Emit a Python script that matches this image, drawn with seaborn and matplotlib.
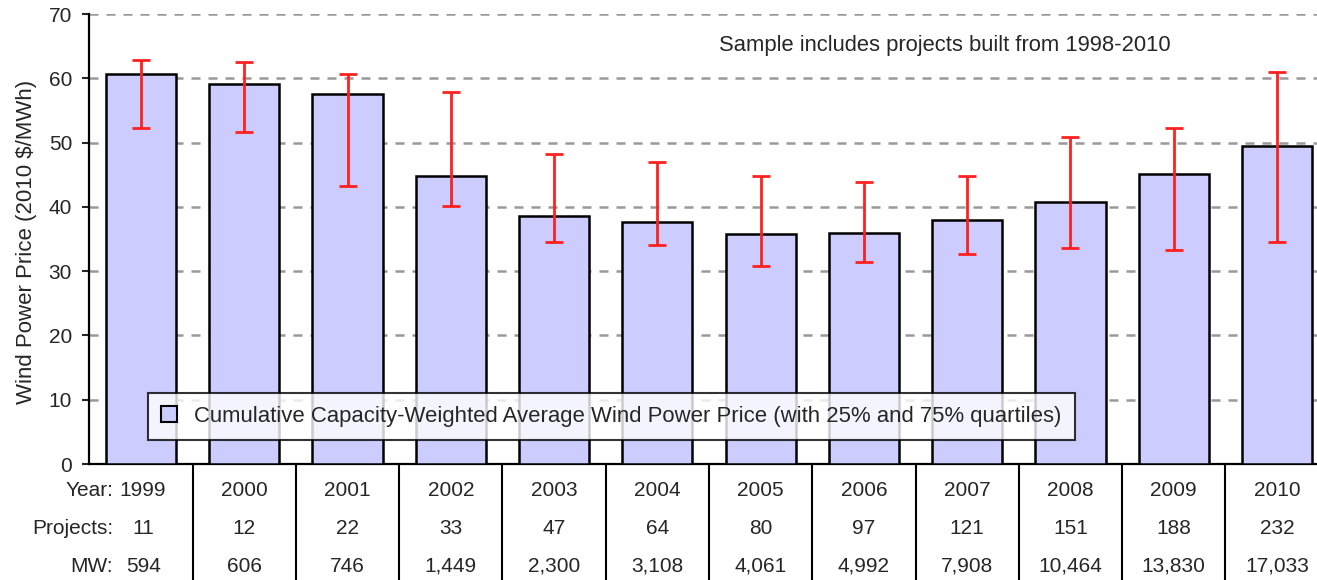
import numpy as np
import pandas as pd
import matplotlib
matplotlib.use("Agg")
import matplotlib.pyplot as plt
import matplotlib.transforms as mtransforms
from matplotlib.patches import Patch
import seaborn as sns

# ---- data ----
years = ["1999", "2000", "2001", "2002", "2003", "2004", "2005", "2006",
         "2007", "2008", "2009", "2010"]
avg_price = [60.7, 59.1, 57.5, 44.8, 38.6, 37.6, 35.8, 36.0, 37.9, 40.7, 45.1, 49.5]
q75 = [62.8, 62.5, 60.7, 57.9, 48.2, 47.0, 44.8, 43.9, 44.8, 50.8, 52.3, 61.0]
q25 = [52.3, 51.7, 43.3, 40.1, 34.5, 34.0, 30.8, 31.4, 32.7, 33.6, 33.3, 34.6]
projects = ["11", "12", "22", "33", "47", "64", "80", "97", "121", "151", "188", "232"]
mw = ["594", "606", "746", "1,449", "2,300", "3,108", "4,061", "4,992",
      "7,908", "10,464", "13,830", "17,033"]
row_labels = ["Year:", "Projects:", "MW:"]
legend_label = "Cumulative Capacity-Weighted Average Wind Power Price (with 25% and 75% quartiles)"
note = "Sample includes projects built from 1998-2010"
ylabel = "Wind Power Price (2010 $/MWh)"
yticks = [0, 10, 20, 30, 40, 50, 60, 70]

sns.set_style("white")
plt.rcParams["font.family"] = ["Liberation Sans", "DejaVu Sans"]

df = pd.DataFrame({"year": years, "price": avg_price})

W, H = 1317, 580
fig = plt.figure(figsize=(W / 100, H / 100), dpi=100)
ax = fig.add_axes([89.4 / W, 116 / H, 1239.2 / W, 450 / H])

sns.barplot(data=df, x="year", y="price", color="#CCCCFF", saturation=1,
            edgecolor="black", linewidth=1.8, width=0.68, ax=ax, zorder=3)

xs = np.arange(len(years))
price = np.array(avg_price)
lo = price - np.array(q25)
hi = np.array(q75) - price
ax.errorbar(xs, price, yerr=[lo, hi], fmt="none", ecolor="#FF2020",
            elinewidth=2, capsize=6.5, capthick=2, zorder=4)

ax.set_ylim(0, 70)
ax.set_xlim(-0.5, len(years) - 0.5)
ax.set_yticks(yticks)
ax.tick_params(axis="y", labelsize=15, length=5, width=1.5, direction="out",
               left=True, pad=7.5)
ax.tick_params(axis="x", bottom=False, labelbottom=False)
ax.set_xlabel("")
ax.set_ylabel(ylabel, fontsize=16)
ax.yaxis.set_label_coords(-0.042, 0.493)
for t in yticks[1:]:
    ax.axhline(t, color="#999999", lw=1.8, ls=(0, (3.6, 3.2)), zorder=1)

for s in ["top", "right"]:
    ax.spines[s].set_visible(False)
for s in ["left", "bottom"]:
    ax.spines[s].set_color("black")
    ax.spines[s].set_linewidth(1.6)

# table beneath the chart
trans = mtransforms.blended_transform_factory(ax.transData, fig.transFigure)
row_y = [1 - 491 / H, 1 - 529 / H, 1 - 566 / H]
for i in range(len(years) - 1):
    ax.plot([i + 0.5, i + 0.5], [1 - 465 / H, 0], transform=trans,
            color="black", lw=1.5, clip_on=False)
for j, (lab, vals) in enumerate(zip(row_labels, [years, projects, mw])):
    ax.text(-0.27, row_y[j], lab, transform=trans, ha="right", va="center",
            fontsize=15)
    for i, v in enumerate(vals):
        ax.text(i + (0.02 if i == 0 else 0), row_y[j], v, transform=trans,
                ha="center", va="center", fontsize=15)

ax.text(0.69, 0.93, note, transform=ax.transAxes, ha="center",
        va="center", fontsize=15.8)

handle = Patch(facecolor="#CCCCFF", edgecolor="black", linewidth=1.5)
leg = ax.legend([handle], [legend_label], loc="lower left",
                bbox_to_anchor=(0.0473, 0.053), fontsize=15.9, frameon=True,
                fancybox=False, handlelength=0.7, handleheight=0.7,
                borderpad=0.6, handletextpad=0.8, borderaxespad=0)
leg.get_frame().set_edgecolor("black")
leg.get_frame().set_linewidth(1.5)
leg.set_zorder(5)

fig.savefig("out.png", dpi=100)
